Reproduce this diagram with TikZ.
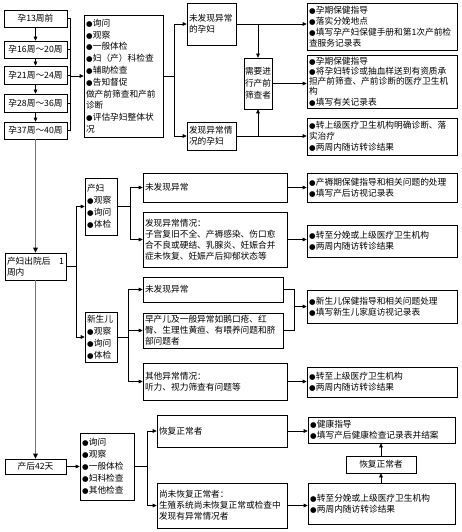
\documentclass[tikz,border=0pt]{standalone}
\usepackage{fontspec}
\setmainfont{Noto Sans CJK SC}
\newfontfamily\symf{DejaVu Sans}
\usetikzlibrary{arrows.meta}
\newcommand\bu{{\symf\fontsize{7.5}{7.5}\selectfont ●}\kern0.3pt}
\newcommand\bx[7][]{%
 \pgfmathsetmacro\bw{#5-#3}\pgfmathsetmacro\bh{#6-#4}\pgfmathsetmacro\tw{#5-#3-4}%
 \node[box,minimum width=\bw pt,minimum height=\bh pt,text width=\tw pt,#1] (#2) at ({(#3+#5)/2},{(#4+#6)/2}) {#7};}
\begin{document}
\begin{tikzpicture}[x=1pt,y=-1pt,
  box/.style={draw, line width=0.6pt, inner xsep=2pt, inner ysep=1pt, align=left, font=\fontsize{8.7}{11}\selectfont},
  arr/.style={-{Triangle[length=4pt,width=3.6pt]}, line width=0.6pt},
  ln/.style={line width=0.6pt},
  main/.style={line width=1.3pt, draw=black!55, -{Triangle[length=5pt,width=4.5pt,black]}}]
\useasboundingbox (0,0) rectangle (461,532);
\fill[white] (0,0) rectangle (461,532);
% pregnancy stages
\bx[align=center]{p1}{4}{10}{67}{27}{孕13周前}
\bx[align=center]{p2}{4}{41}{67}{58}{孕16周～20周}
\bx[align=center]{p3}{4}{66}{67}{84}{孕21周～24周}
\bx[align=center]{p4}{4}{94}{67}{112}{孕28周～36周}
\bx[align=center]{p5}{4}{122}{67}{139}{孕37周～40周}
\bx[font=\fontsize{8.7}{11.8}\selectfont]{lst}{84}{15}{163}{137}{\bu 询问\\\bu 观察\\\bu 一般体检\\\bu 妇（产）科检查\\\bu 辅助检查\\\bu 告知督促\\做产前筛查和产前\\诊断\\\bu 评估孕妇整体状\\况}
\bx{a1}{187}{3}{236}{45}{未发现异常\\的孕妇}
\bx{a2}{187}{122}{236}{150}{发现异常情\\况的孕妇}
\bx[inner xsep=1pt,text width=26pt,font=\fontsize{8.7}{12}\selectfont]{s}{244}{58}{272}{109}{需要进\\行产前\\筛查者}
\bx{r1}{307}{3}{457}{50}{\bu 孕期保健指导\\\bu 落实分娩地点\\\bu 填写孕产妇保健手册和第1次产前检\\查服务记录表}
\bx[font=\fontsize{8.7}{10.3}\selectfont]{r2}{307}{55}{457}{108}{\bu 孕期保健指导\\\bu 将孕妇转诊或抽血样送到有资质承\\担产前筛查、产前诊断的医疗卫生机\\构\\\bu 填写有关记录表}
\bx{r3}{307}{118}{457}{155}{\bu 转上级医疗卫生机构明确诊断、落\\实治疗\\\bu 两周内随访转诊结果}
% one week after discharge
\bx{w1}{5}{253}{66}{280}{产妇出院后\hfill 1\\周内}
\bx[font=\fontsize{8.7}{12}\selectfont]{m}{85}{178}{117}{235}{产妇\\\bu 观察\\\bu 询问\\\bu 体检}
\bx[font=\fontsize{8.7}{12}\selectfont]{n}{85}{312}{117}{362}{新生儿\\\bu 观察\\\bu 询问\\\bu 体检}
\bx{mn}{143}{173}{287}{202}{未发现异常}
\bx{ma}{143}{212}{287}{267}{发现异常情况：\\子宫复旧不全、产褥感染、伤口愈\\合不良或硬结、乳腺炎、妊娠合并\\症未恢复、妊娠产后抑郁状态等}
\bx{mr1}{307}{173}{457}{202}{\bu 产褥期保健指导和相关问题的处理\\\bu 填写产后访视记录表}
\bx{mr2}{307}{225}{457}{257}{\bu 转至分娩或上级医疗卫生机构\\\bu 两周内随访转诊结果}
\bx{nn}{143}{277}{283}{302}{未发现异常}
\bx{np}{143}{313}{283}{348}{早产儿及一般异常如鹅口疮、红\\臀、生理性黄疸、有喂养问题和脐\\部问题者}
\bx{no}{143}{363}{287}{400}{其他异常情况：\\听力、视力筛查有问题等}
\bx{nr1}{307}{290}{457}{323}{\bu 新生儿保健指导和相关问题处理\\\bu 填写新生儿家庭访视记录表}
\bx{nr2}{307}{367}{457}{397}{\bu 转至上级医疗卫生机构\\\bu 两周内随访转诊结果}
% 42 days
\bx[align=center]{d42}{5}{459}{66}{474}{产后42天}
\bx[font=\fontsize{8.7}{12}\selectfont]{dl}{80}{433}{134}{500}{\bu 询问\\\bu 观察\\\bu 一般体检\\\bu 妇科检查\\\bu 其他检查}
\bx{dn}{157}{415}{287}{447}{恢复正常者}
\bx{du}{157}{483}{287}{528}{尚未恢复正常者：\\生殖系统尚未恢复正常或检查中\\发现有异常情况者}
\bx{dr1}{308}{417}{455}{443}{\bu 健康指导\\\bu 填写产后健康检查记录表并结案}
\bx[align=center]{rc}{346}{456}{416}{473}{恢复正常者}
\bx{dr2}{308}{483}{455}{524}{\bu 转至分娩或上级医疗卫生机构\\\bu 两周内随访转诊结果}
% connectors: pregnancy
\foreach \i/\j in {1/2,2/3,3/4,4/5} \draw[arr] (p\i.south) -- (p\j.north);
\coordinate (b1) at (70,76);
\foreach \i in {1,...,5} \draw[ln] (p\i.east) -| (b1);
\draw[arr] (b1) -- (lst.west);
\coordinate (b2) at (174,76);
\draw[ln] (lst.east) -- (b2);
\draw[arr] (b2) |- (a1.west);
\draw[arr] (b2) |- (a2.west);
\draw[arr] (a1.east) -- (a1.east -| r1.west);
\draw[arr] (a1.east -| s.north) -- (s.north);
\draw[arr] (s.east) -- (s.east -| r2.west);
\draw[arr] (a2.east) -- (a2.east -| r3.west);
\draw[arr] (a2.east -| s.south) -- (s.south);
% main line
\draw[main] (p5.south) -- (w1.north);
\draw[main] (w1.south) -- (d42.north);
% one week
\coordinate (b3) at (76,266.5);
\draw[ln] (w1.east) -- (b3);
\draw[arr] (b3) |- (m.west);
\draw[arr] (b3) |- (n.west);
\coordinate (b4) at (130,206.5);
\draw[ln] (m.east) -- (b4);
\draw[arr] (b4) |- (mn.west);
\draw[arr] (b4) |- (ma.west);
\draw[arr] (mn.east) -- (mn.east -| mr1.west);
\draw[arr] (ma.east) -- (ma.east -| mr2.west);
\coordinate (b5) at (128,337);
\draw[ln] (n.east) -- (b5);
\draw[arr] (b5) |- (nn.west);
\draw[arr] (b5) |- (np.west);
\draw[arr] (b5) |- (no.west);
\coordinate (b6) at (294,306.5);
\draw[ln] (nn.east) -| (b6);
\draw[ln] (np.east) -| (b6);
\draw[arr] (b6) -- (nr1.west);
\draw[arr] (no.east) -- (no.east -| nr2.west);
% 42 days
\draw[arr] (d42.east) -- (dl.west);
\coordinate (b7) at (147,466.5);
\draw[ln] (dl.east) -- (b7);
\draw[arr] (b7) |- (dn.west);
\draw[arr] (b7) |- (du.west);
\draw[arr] (dn.east) -- (dn.east -| dr1.west);
\draw[arr] (du.east) -- (du.east -| dr2.west);
\draw[arr] (rc.south |- dr2.north) -- (rc.south);
\draw[arr] (rc.north) -- (rc.north |- dr1.south);
\end{tikzpicture}
\end{document}
